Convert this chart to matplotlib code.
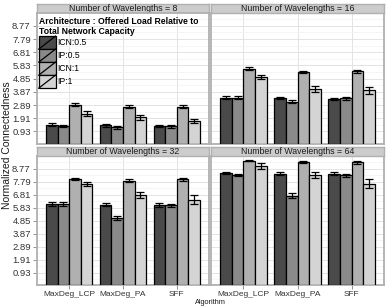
import numpy as np
import matplotlib
matplotlib.use("Agg")
import matplotlib.pyplot as plt
from matplotlib.patches import Rectangle, Patch
from matplotlib.lines import Line2D
from matplotlib.legend_handler import HandlerPatch

plt.rcParams["font.family"] = ["Liberation Sans", "DejaVu Sans"]

# data
algorithms = ["MaxDeg_LCP", "MaxDeg_PA", "SFF"]
architectures = ["ICN:0.5", "IP:0.5", "ICN:1", "IP:1"]
wavelengths = [8, 16, 32, 64]
colors = ["#4a4a4a", "#8a8a8a", "#b0b0b0", "#d4d4d4"]

# rows = architecture, cols = algorithm
mean_w8 = [[1.43, 1.38, 1.33], [1.33, 1.25, 1.30], [2.92, 2.77, 2.76], [2.25, 1.97, 1.72]]
err_w8 = [[0.10, 0.10, 0.10], [0.10, 0.10, 0.10], [0.10, 0.12, 0.12], [0.18, 0.20, 0.17]]
mean_w16 = [[3.44, 3.41, 3.34], [3.44, 3.14, 3.39], [5.60, 5.35, 5.40], [4.97, 4.11, 3.98]]
err_w16 = [[0.10, 0.10, 0.10], [0.10, 0.10, 0.10], [0.08, 0.10, 0.12], [0.18, 0.22, 0.25]]
mean_w32 = [[6.12, 6.04, 6.04], [6.12, 5.07, 6.00], [7.99, 7.87, 7.96], [7.61, 6.79, 6.44]]
err_w32 = [[0.14, 0.12, 0.14], [0.14, 0.14, 0.12], [0.09, 0.10, 0.10], [0.17, 0.22, 0.35]]
mean_w64 = [[8.44, 8.39, 8.39], [8.31, 6.72, 8.26], [9.36, 9.24, 9.24], [8.96, 8.31, 7.64]]
err_w64 = [[0.08, 0.10, 0.09], [0.08, 0.20, 0.12], [0.04, 0.08, 0.10], [0.20, 0.22, 0.33]]

means = [mean_w8, mean_w16, mean_w32, mean_w64]
errs = [err_w8, err_w16, err_w32, err_w64]

yticks = [0.93, 1.91, 2.89, 3.87, 4.85, 5.83, 6.81, 7.79, 8.77]
ytick_labels = ["%.2f" % t for t in yticks]
yminor = [t - 0.49 for t in yticks] + [yticks[-1] + 0.49]

W, H = 390, 307
fig = plt.figure(figsize=(W / 100, H / 100), dpi=100)

col_x = [(37, 209), (211, 384)]
row_y = [(13, 144), (156, 285)]
strip_h = 9.5

border_col = "#b0b0b0"
group_w = 0.86
bw = group_w / 4


class SlashHandler(HandlerPatch):
    # legend key with the diagonal line like ggplot
    def create_artists(self, legend, orig_handle, xdescent, ydescent, width, height, fontsize, trans):
        r = Rectangle((-xdescent, -ydescent), width, height, facecolor=orig_handle.get_facecolor(),
                      edgecolor="black", linewidth=0.9, transform=trans)
        l = Line2D([-xdescent, -xdescent + width], [-ydescent, -ydescent + height], color="black",
                   linewidth=0.9, transform=trans)
        return [r, l]


for i, w in enumerate(wavelengths):
    r, c = divmod(i, 2)
    x0, x1 = col_x[c]
    y0, y1 = row_y[r]
    ax = fig.add_axes([x0 / W, 1 - y1 / H, (x1 - x0) / W, (y1 - y0) / H])
    x = np.arange(len(algorithms))
    for k, arch in enumerate(architectures):
        xs = x - group_w / 2 + bw * (k + 0.5)
        ax.bar(xs, means[i][k], width=bw, color=colors[k], edgecolor="black", linewidth=0.9, zorder=3)
        ax.errorbar(xs, means[i][k], yerr=errs[i][k], fmt="none", ecolor="black", elinewidth=0.9,
                    capsize=2.6, capthick=0.9, zorder=4)
    ax.set_xlim(-0.6, 2.6)
    ax.set_ylim(0, 9.72)
    ax.set_yticks(yticks)
    ax.set_yticks(yminor, minor=True)
    ax.set_xticks(x)
    ax.grid(True, which="major", color="#e3e3e3", linewidth=0.7, zorder=0)
    ax.grid(True, which="minor", axis="y", color="#f2f2f2", linewidth=0.5, zorder=0)
    ax.tick_params(which="minor", length=0)
    ax.tick_params(which="major", length=3, width=0.6, color="#7f7f7f", labelsize=6.8,
                   labelcolor="#333333", pad=1.5)
    ax.tick_params(axis="x", labelsize=6.0)
    for s in ax.spines.values():
        s.set_color(border_col)
        s.set_linewidth(1.3)
    if c == 0:
        ax.set_yticklabels(ytick_labels)
    else:
        ax.tick_params(axis="y", length=0, labelleft=False)
    if r == 1:
        ax.set_xticklabels(algorithms)
    else:
        ax.tick_params(axis="x", length=0, labelbottom=False)

    # strip
    sax = fig.add_axes([x0 / W, 1 - y0 / H, (x1 - x0) / W, strip_h / H])
    sax.set_facecolor("#cccccc")
    sax.set_xticks([])
    sax.set_yticks([])
    for s in sax.spines.values():
        s.set_color(border_col)
        s.set_linewidth(1.0)
    sax.text(0.5, 0.45, "Number of Wavelengths = %d" % w, ha="center", va="center",
             fontsize=6.3, color="#1a1a1a", transform=sax.transAxes)

    if i == 0:
        ax.set_zorder(10)
        handles = [Patch(facecolor=colors[k], label=architectures[k]) for k in range(4)]
        leg = ax.legend(handles=handles, loc="upper left", bbox_to_anchor=(0.0, 0.985),
                        title="Architecture : Offered Load Relative to\nTotal Network Capacity",
                        frameon=False, fontsize=6.2, title_fontsize=6.2, alignment="left",
                        handlelength=1.95, handleheight=1.95, handletextpad=0.15, labelspacing=0.0,
                        borderpad=0.1, borderaxespad=0.1,
                        handler_map={Patch: SlashHandler()})
        leg.get_title().set_fontweight("bold")
        leg.set_zorder(5)

fig.text(7 / W, 1 - 145 / H, "Normalized Connectedness", rotation=90, ha="center", va="center",
         fontsize=7.5, color="#1a1a1a")
fig.text(210 / W, 1 - 302 / H, "Algorithm", ha="center", va="center", fontsize=5.3, color="#1a1a1a")

fig.savefig("out.png", dpi=100)
